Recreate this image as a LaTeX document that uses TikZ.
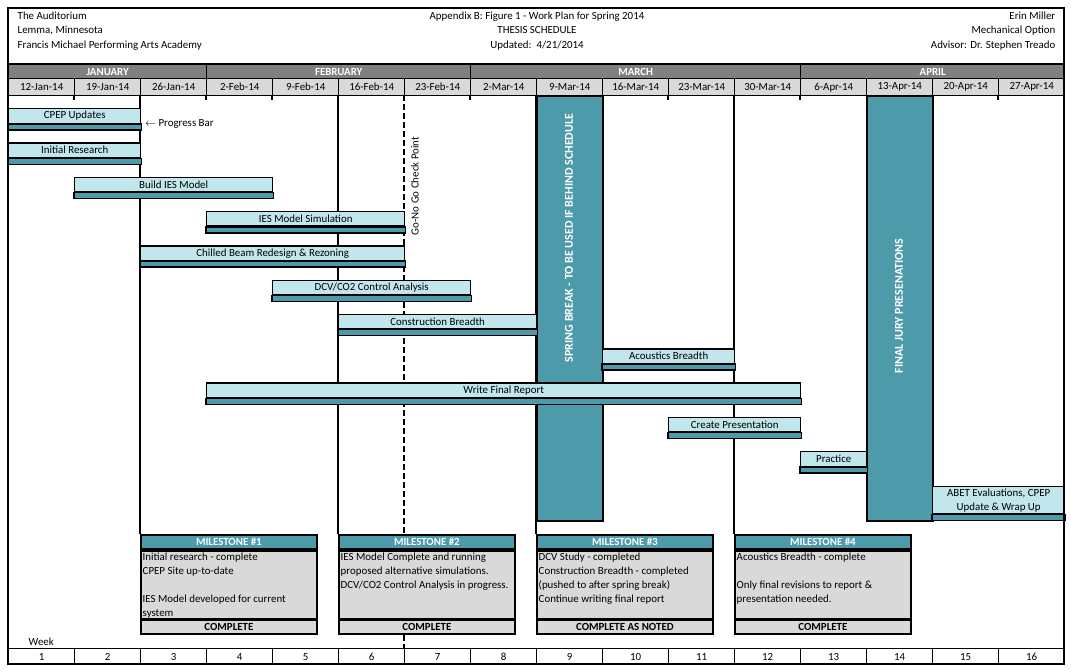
\documentclass[tikz,border=0pt]{standalone}
\usepackage{fontspec}
\setmainfont{Carlito}
\usetikzlibrary{positioning,calc}
\definecolor{barteal}{HTML}{4D9AAB}
\definecolor{barlight}{HTML}{C1E6EC}
\definecolor{monthgray}{HTML}{808080}
\definecolor{dategray}{HTML}{D9D9D9}
\newcommand{\cellfont}{\fontsize{10.9}{14}\selectfont}

\begin{document}
\begin{tikzpicture}[x=1pt,y=-1pt,line width=1.4pt,font=\cellfont,
  task/.style={draw,fill=barlight,anchor=north west,minimum height=14.5pt,inner sep=0pt},
  prog/.style={draw,fill=barteal},
  brk/.style={draw,line width=1.8pt,fill=barteal,anchor=north west,minimum width=66pt,minimum height=425pt,inner sep=0pt},
  brktext/.style={rotate=90,text=white,font=\fontsize{12}{14}\selectfont\bfseries},
  month/.style={draw,fill=monthgray,anchor=north west,minimum height=14pt,inner sep=0pt,text=white,font=\cellfont\bfseries},
  datecell/.style={draw,fill=dategray,anchor=north west,minimum width=66pt,minimum height=17pt,inner sep=0pt},
  weekcell/.style={draw,fill=white,anchor=north west,minimum width=66pt,minimum height=16pt,inner sep=0pt},
  mshead/.style={draw,line width=1.8pt,fill=barteal,anchor=north west,minimum width=176pt,minimum height=14pt,inner sep=0pt,text=white,font=\cellfont\bfseries},
  msbody/.style={draw,line width=1.8pt,fill=dategray,anchor=north west,minimum width=176pt,minimum height=68pt,inner sep=0pt},
  msfoot/.style={draw,line width=1.8pt,fill=dategray,anchor=north west,minimum width=176pt,minimum height=13.5pt,inner sep=0pt,font=\cellfont\bfseries},
  mstext/.style={anchor=north west,align=left,inner xsep=2pt,inner ysep=2.5pt}]
\useasboundingbox (0,0) rectangle (1071,672);

% header
\node[anchor=north west,align=left,inner sep=0pt,font=\fontsize{10.9}{14.5}\selectfont] (site) at (17,11) {The Auditorium\\Lemma, Minnesota\\Francis Michael Performing Arts Academy};
\node[anchor=north,align=center,inner sep=0pt,font=\fontsize{10.9}{14.5}\selectfont] (title) at (537,11) {Appendix B: Figure 1 - Work Plan for Spring 2014\\THESIS SCHEDULE\\Updated:\ \ 4/21/2014};
\node[anchor=north east,align=right,inner sep=0pt,font=\fontsize{10.9}{14.5}\selectfont] (author) at (1056,11) {Erin Miller\\Mechanical Option\\Advisor: Dr. Stephen Treado};

% months and dates
\node[month,minimum width=198pt] (jan) at (8,64) {JANUARY};
\node[month,minimum width=264pt] (feb) at (206,64) {FEBRUARY};
\node[month,minimum width=330pt] (mar) at (470,64) {MARCH};
\node[month,minimum width=264pt] (apr) at (800,64) {APRIL};
\foreach \d [count=\i from 0] in {12-Jan-14,19-Jan-14,26-Jan-14,2-Feb-14,9-Feb-14,16-Feb-14,23-Feb-14,2-Mar-14,9-Mar-14,16-Mar-14,23-Mar-14,30-Mar-14,6-Apr-14,13-Apr-14,20-Apr-14,27-Apr-14}
  \node[datecell] (d\i) at ({8+66*\i},78) {\d};

% grid lines
\foreach \xx/\yb in {140/534,338/534,536/534,602/520,734/534,932/520}
  \draw (\xx,95) -- (\xx,\yb);
\foreach \xx in {74,206,272,470,668,800,998}
  \draw (\xx,95) -- (\xx,100);
\draw[line width=1.6pt,dash pattern=on 6pt off 3pt] (404,95) -- (404,648);
\node[rotate=90,inner sep=0pt] (gonogo) at (415,186) {Go-No Go Check Point};

% spring break and juries
\node[brk] (spring) at (536,95) {};
\node[brktext] (springtxt) at (569,238) {SPRING BREAK - TO BE USED IF BEHIND SCHEDULE};
\node[brk] (jury) at (866,95) {};
\node[brktext] (jurytxt) at (899,306) {FINAL JURY PRESENATIONS};

% tasks
\foreach \nm/\c/\n/\r/\txt in {cpep/0/2/0/{CPEP Updates},init/0/2/1/{Initial Research},
    build/1/3/2/{Build IES Model},sim/3/3/3/{IES Model Simulation},
    beam/2/4/4/{Chilled Beam Redesign \& Rezoning},dcv/4/3/5/{DCV/CO2 Control Analysis},
    constr/5/3/6/{Construction Breadth},acou/9/2/7/{Acoustics Breadth},
    report/3/9/8/{Write Final Report},pres/10/2/9/{Create Presentation},
    prac/12/1/10/{Practice}}
{
  \node[task,minimum width=\n*66pt] (\nm) at ({8+66*\c},{108+34.3*\r}) {\txt};
  \draw[prog] (\nm.south west) rectangle ($(\nm.south east)+(0,6)$);
}
\node[task,minimum width=132pt,minimum height=27pt,align=center] (abet) at (932,486) {ABET Evaluations, CPEP\\Update \& Wrap Up};
\draw[prog] (abet.south west) rectangle ($(abet.south east)+(0,6)$);
\node[anchor=west,inner sep=0pt] (pbar) [right=3pt of cpep.south east] {$\leftarrow$ Progress Bar};

% milestones
\foreach \k/\c/\body/\foot in {1/2/{Initial research - complete\\CPEP Site up-to-date\\[14pt]IES Model developed for current\\system}/COMPLETE,
    2/5/{IES Model Complete and running\\proposed alternative simulations.\\DCV/CO2 Control Analysis in progress.}/COMPLETE,
    3/8/{DCV Study - completed\\Construction Breadth - completed\\(pushed to after spring break)\\Continue writing final report}/{COMPLETE AS NOTED},
    4/11/{Acoustics Breadth - complete\\[14pt]Only final revisions to report \&\\presentation needed.}/COMPLETE}
{
  \node[mshead] (ms\k) at ({8+66*\c},534) {MILESTONE \#\k};
  \node[msbody] (msb\k) at (ms\k.south west) {};
  \node[mstext] (mst\k) at (msb\k.north west) {\body};
  \node[msfoot] (msf\k) at (msb\k.south west) {\foot};
}

% weeks
\node[anchor=south west,inner sep=0pt] (week) at (28,646) {Week};
\foreach \i in {1,...,16}
  \node[weekcell] (w\i) at ({8+66*(\i-1)},648) {\i};

% frame
\draw[line width=1.8pt] (8,8) rectangle (1064,664);
\draw[line width=1.8pt] (8,64) -- (1064,64);
\end{tikzpicture}
\end{document}
